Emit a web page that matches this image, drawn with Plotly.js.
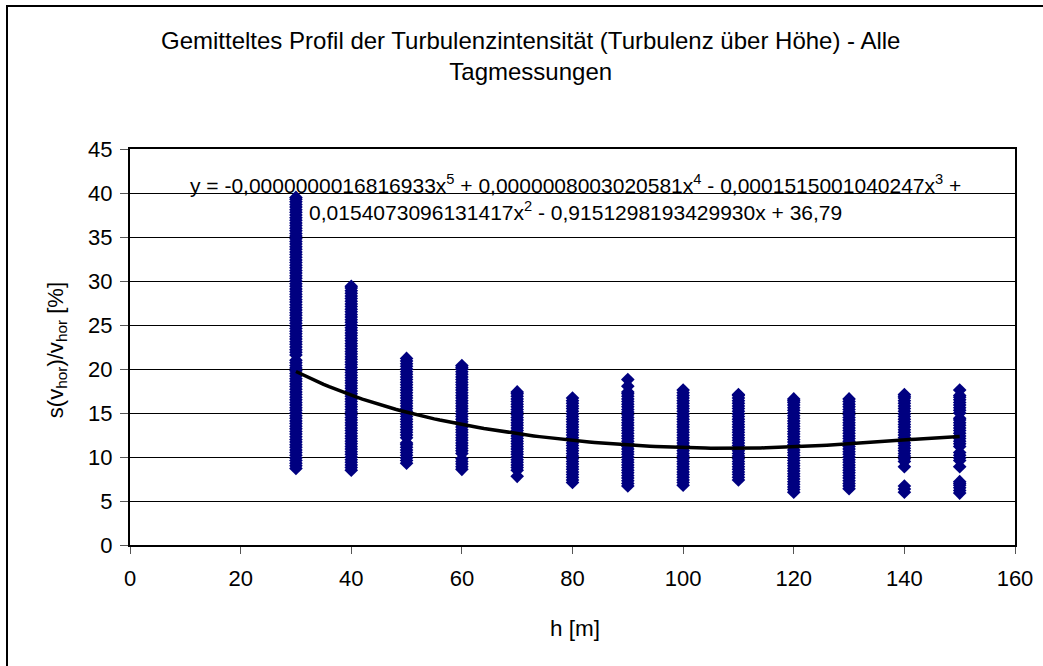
<!DOCTYPE html>
<html>
<head>
<meta charset="utf-8">
<script src="https://cdn.plot.ly/plotly-3.0.1.min.js"></script>
<style>
  html, body { margin: 0; padding: 0; background: #fff; }
  #wrap { position: relative; width: 1043px; height: 666px; overflow: hidden; }
  #chart { position: absolute; left: 0; top: 0; width: 1043px; height: 666px; }
  #frame { position: absolute; left: 6px; top: 5px; width: 1200px; height: 800px;
           border-left: 2px solid #000; border-top: 2px solid #000; pointer-events: none; }
</style>
</head>
<body>
<div id="wrap">
  <div id="chart"></div>
  <div id="frame"></div>
</div>
<script>
// Measurement heights [m]
const heights = [30, 40, 50, 60, 70, 80, 90, 100, 110, 120, 130, 140, 150];

// Turbulence intensity s(v_hor)/v_hor [%] of all daytime measurements, per height
const ti30 = [8.7, 9.0, 9.3, 9.6, 9.9, 10.2, 10.5, 10.8, 11.1, 11.4, 11.7, 12.0, 12.3, 12.6, 12.9, 13.2, 13.5, 13.8, 14.1, 14.4, 14.7, 15.0, 15.3, 15.6, 15.9, 16.2, 16.5, 16.8, 17.1, 17.4, 17.7, 18.0, 18.3, 18.6, 18.9, 19.2, 19.5, 19.8, 20.1, 20.4, 20.7, 21.0, 21.6, 21.9, 22.2, 22.5, 22.8, 23.1, 23.4, 23.7, 24.0, 24.3, 24.6, 24.9, 25.2, 25.5, 25.8, 26.1, 26.4, 26.7, 27.0, 27.3, 27.6, 27.9, 28.2, 28.5, 28.8, 29.1, 29.4, 29.7, 30.0, 30.3, 30.6, 30.9, 31.2, 31.5, 31.8, 32.1, 32.4, 32.7, 33.0, 33.3, 33.6, 33.9, 34.2, 34.5, 34.8, 35.1, 35.4, 35.7, 36.0, 36.3, 36.6, 36.9, 37.2, 37.5, 37.8, 38.1, 38.4, 38.7, 39.0, 39.3, 39.5];
const ti40 = [8.5, 8.8, 9.1, 9.4, 9.7, 10.0, 10.3, 10.6, 10.9, 11.2, 11.5, 11.8, 12.1, 12.4, 12.7, 13.0, 13.3, 13.6, 13.9, 14.2, 14.5, 14.8, 15.1, 15.4, 15.7, 16.0, 16.3, 16.6, 16.9, 17.2, 17.5, 17.8, 18.1, 18.4, 18.7, 19.0, 19.3, 19.6, 19.9, 20.2, 20.5, 20.8, 21.1, 21.4, 21.7, 22.0, 22.3, 22.6, 22.9, 23.2, 23.5, 23.8, 24.1, 24.4, 24.7, 25.0, 25.3, 25.6, 25.9, 26.2, 26.5, 26.8, 27.1, 27.4, 27.7, 28.0, 28.3, 28.6, 28.9, 29.2, 29.4];
const ti50 = [9.3, 9.6, 9.9, 10.2, 10.5, 10.8, 11.1, 11.4, 11.6, 12.2, 12.5, 12.8, 13.1, 13.4, 13.7, 14.0, 14.3, 14.6, 14.9, 15.2, 15.5, 15.8, 16.1, 16.4, 16.7, 17.0, 17.3, 17.6, 17.9, 18.2, 18.5, 18.8, 19.1, 19.4, 19.7, 20.0, 20.3, 20.6, 20.9, 21.2];
const ti60 = [8.6, 8.9, 9.2, 9.5, 9.8, 10.4, 10.7, 11.0, 11.3, 11.6, 11.9, 12.2, 12.5, 12.8, 13.1, 13.4, 13.7, 14.0, 14.3, 14.6, 14.9, 15.2, 15.5, 15.8, 16.1, 16.4, 16.7, 17.0, 17.3, 17.6, 17.9, 18.2, 18.5, 18.8, 19.1, 19.4, 19.7, 20.0, 20.2, 20.4];
const ti70 = [7.8, 8.5, 8.8, 9.1, 9.4, 9.7, 10.0, 10.3, 10.6, 10.9, 11.2, 11.5, 11.8, 12.1, 12.4, 12.7, 13.0, 13.3, 13.6, 13.9, 14.2, 14.5, 14.8, 15.1, 15.4, 15.7, 16.0, 16.3, 16.6, 16.9, 17.2, 17.4];
const ti80 = [7.1, 7.4, 7.7, 8.0, 8.3, 8.6, 8.9, 9.2, 9.5, 9.8, 10.1, 10.4, 10.7, 11.0, 11.3, 11.6, 11.9, 12.2, 12.5, 12.8, 13.1, 13.4, 13.7, 14.0, 14.3, 14.6, 14.9, 15.2, 15.5, 15.8, 16.1, 16.4, 16.7];
const ti90 = [6.7, 7.0, 7.3, 7.6, 7.9, 8.2, 8.5, 8.8, 9.1, 9.4, 9.7, 10.0, 10.3, 10.6, 10.9, 11.2, 11.5, 11.8, 12.1, 12.4, 12.7, 13.0, 13.3, 13.6, 13.9, 14.2, 14.5, 14.8, 15.1, 15.4, 15.7, 16.0, 16.3, 16.6, 16.9, 17.2, 17.4, 18.05, 18.8];
const ti100 = [6.8, 7.1, 7.4, 7.7, 8.0, 8.3, 8.6, 8.9, 9.2, 9.5, 9.8, 10.1, 10.4, 10.7, 11.0, 11.3, 11.6, 11.9, 12.2, 12.5, 12.8, 13.1, 13.4, 13.7, 14.0, 14.3, 14.6, 14.9, 15.2, 15.5, 15.8, 16.1, 16.4, 16.7, 17.0, 17.3, 17.6];
const ti110 = [7.4, 7.7, 8.0, 8.3, 8.6, 8.9, 9.2, 9.5, 9.8, 10.1, 10.4, 10.7, 11.0, 11.3, 11.6, 11.9, 12.2, 12.5, 12.8, 13.1, 13.4, 13.7, 14.0, 14.3, 14.6, 14.9, 15.2, 15.5, 15.8, 16.1, 16.4, 16.7, 17.0, 17.1];
const ti120 = [6.0, 6.3, 6.6, 6.9, 7.2, 7.5, 7.8, 8.1, 8.4, 8.7, 9.0, 9.3, 9.6, 9.9, 10.2, 10.5, 10.8, 11.1, 11.4, 11.7, 12.0, 12.3, 12.6, 12.9, 13.2, 13.5, 13.8, 14.1, 14.4, 14.7, 15.0, 15.3, 15.6, 15.9, 16.2, 16.4, 16.6];
const ti130 = [6.4, 6.7, 7.0, 7.3, 7.6, 7.9, 8.2, 8.5, 8.8, 9.1, 9.4, 9.7, 10.0, 10.3, 10.6, 10.9, 11.2, 11.5, 11.8, 12.1, 12.4, 12.7, 13.0, 13.3, 13.6, 13.9, 14.2, 14.5, 14.8, 15.1, 15.4, 15.7, 16.0, 16.3, 16.6];
const ti140 = [6.0, 6.35, 6.7, 8.9, 9.5, 9.8, 10.1, 10.4, 10.7, 11.0, 11.3, 11.6, 11.9, 12.2, 12.5, 12.8, 13.1, 13.4, 13.7, 14.0, 14.3, 14.6, 14.9, 15.2, 15.5, 15.8, 16.1, 16.4, 16.7, 16.9, 17.1];
const ti150 = [5.9, 6.2, 6.5, 6.8, 7.0, 7.2, 8.9, 9.6, 9.9, 10.2, 10.5, 11.2, 11.5, 11.8, 12.1, 12.4, 12.7, 13.0, 13.3, 13.6, 13.9, 14.2, 14.4, 15.0, 15.3, 15.6, 15.9, 16.2, 16.5, 16.8, 17.0, 17.6];

// Polynomial trend (order 5) coefficients, highest power first
const trendCoeffs = [-0.0000000016816933, 0.0000008003020581, -0.0001515001040247, 0.0154073096131417, -0.9151298193429930, 36.79];
const trendCoeffText = ["0,0000000016816933", "0,0000008003020581", "0,0001515001040247", "0,0154073096131417", "0,9151298193429930", "36,79"];

// Axis ticks
const xTicks = [0, 20, 40, 60, 80, 100, 120, 140, 160];
const yTicks = [0, 5, 10, 15, 20, 25, 30, 35, 40, 45];

const columns = [ti30, ti40, ti50, ti60, ti70, ti80, ti90, ti100, ti110, ti120, ti130, ti140, ti150];
const xs = [], ys = [];
columns.forEach((col, i) => col.forEach(v => { xs.push(heights[i]); ys.push(v); }));

// Trend curve over the measured height range
const trendX = [], trendY = [];
for (let h = heights[0]; h <= heights[heights.length - 1]; h += 1) {
  let y = 0;
  trendCoeffs.forEach(c => { y = y * h + c; });
  trendX.push(h); trendY.push(y);
}

const sgn = c => (c < 0 ? '-' : '+');
const eqText =
  'y = ' + (trendCoeffs[0] < 0 ? '-' : '') + trendCoeffText[0] + 'x<sup>5</sup> ' +
  sgn(trendCoeffs[1]) + ' ' + trendCoeffText[1] + 'x<sup>4</sup> ' +
  sgn(trendCoeffs[2]) + ' ' + trendCoeffText[2] + 'x<sup>3</sup> ' + sgn(trendCoeffs[3]) + '<br>' +
  trendCoeffText[3] + 'x<sup>2</sup> ' + sgn(trendCoeffs[4]) + ' ' + trendCoeffText[4] + 'x ' +
  sgn(trendCoeffs[5]) + ' ' + trendCoeffText[5];

const font = 'Liberation Sans, Arial, sans-serif';

const data = [
  {
    type: 'scatter', mode: 'markers', x: xs, y: ys,
    marker: { symbol: 'diamond', size: 10.5, color: '#000080', line: { width: 0 } },
    hoverinfo: 'x+y', showlegend: false
  },
  {
    type: 'scatter', mode: 'lines', x: trendX, y: trendY,
    line: { color: '#000000', width: 3.5 },
    hoverinfo: 'skip', showlegend: false
  }
];

const layout = {
  width: 1043, height: 666,
  margin: { l: 130, r: 28, t: 149, b: 121 },
  paper_bgcolor: '#ffffff', plot_bgcolor: '#ffffff',
  font: { family: font, color: '#000', size: 22 },
  xaxis: {
    range: [0, 160], tickvals: xTicks, ticktext: xTicks.map(String),
    showgrid: false, zeroline: false,
    showline: true, linecolor: '#000', linewidth: 2, mirror: true,
    ticks: 'outside', ticklen: 7, tickcolor: '#555', tickwidth: 1,
    ticklabelstandoff: 6,
    tickfont: { family: font, size: 22, color: '#000' }
  },
  yaxis: {
    range: [0, 45], tickvals: yTicks, ticktext: yTicks.map(String),
    showgrid: true, gridcolor: '#000', gridwidth: 1, zeroline: false,
    showline: true, linecolor: '#000', linewidth: 2, mirror: true,
    ticks: 'outside', ticklen: 8, tickcolor: '#555', tickwidth: 1,
    ticklabelstandoff: 3,
    tickfont: { family: font, size: 22, color: '#000' }
  },
  annotations: [
    {
      // chart title
      text: 'Gemitteltes Profil der Turbulenzintensität (Turbulenz über Höhe) - Alle<br>Tagmessungen',
      xref: 'paper', yref: 'paper', x: 0.453, y: 1.2336,
      xanchor: 'center', yanchor: 'middle', align: 'center', showarrow: false,
      font: { family: font, size: 24, color: '#000' }
    },
    {
      // x axis title
      text: 'h [m]', xref: 'paper', yref: 'paper', x: 0.503, y: -0.2096,
      xanchor: 'center', yanchor: 'middle', showarrow: false,
      font: { family: font, size: 22.5, color: '#000' }
    },
    {
      // y axis title
      text: 's(v<sub>hor</sub>)/v<sub>hor</sub> [%]', xref: 'paper', yref: 'paper',
      x: -0.0825, y: 0.492, textangle: -90,
      xanchor: 'center', yanchor: 'middle', showarrow: false,
      font: { family: font, size: 22, color: '#000' }
    },
    {
      // trendline equation
      text: eqText, xref: 'x', yref: 'y', x: 80.5, y: 39.5,
      xanchor: 'center', yanchor: 'middle', align: 'center', showarrow: false,
      font: { family: font, size: 21, color: '#000' }
    }
  ]
};

Plotly.newPlot('chart', data, layout, { displayModeBar: false, staticPlot: true });
</script>
</body>
</html>
